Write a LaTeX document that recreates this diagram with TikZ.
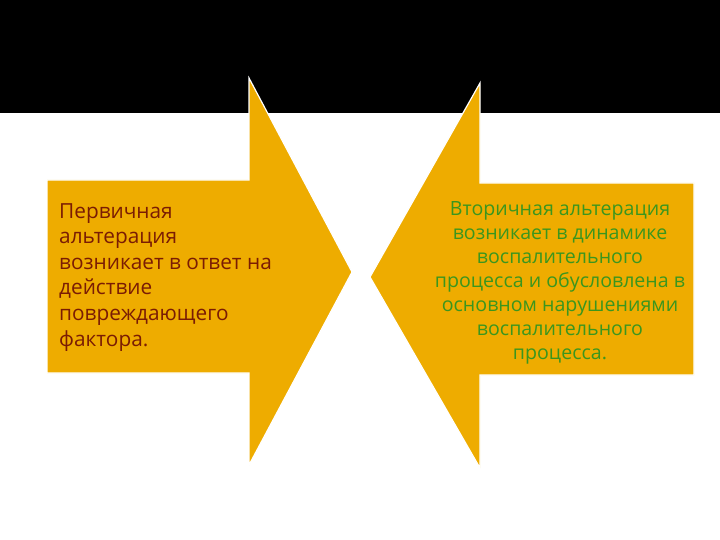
\documentclass[tikz,border=0pt]{standalone}
\usepackage{fontspec}
\setmainfont{Open Sans}
\definecolor{arrowor}{RGB}{238,172,0}
\definecolor{lefttxt}{RGB}{122,28,4}
\definecolor{righttxt}{RGB}{58,150,30}
\tikzset{
  arrowshape/.style={fill=arrowor, draw=white, line width=1.2pt, line join=miter},
  lefttext/.style={text=lefttxt, align=left, inner sep=0pt, font=\fontsize{20.8}{25.6}\selectfont},
  righttext/.style={text=righttxt, align=center, inner sep=0pt, font=\fontsize{19.6}{24}\selectfont}
}
\begin{document}
\begin{tikzpicture}[x=1pt,y=-1pt]
\useasboundingbox (0,0) rectangle (720,540);
\fill[white] (0,0) rectangle (720,540);
\fill[black] (0,0) rectangle (720,113);
% left arrow
\draw[arrowshape] (47,180) -- (249,180) -- (249,78) -- (352,272) -- (249,465) -- (249,373) -- (47,373) -- cycle;
% right arrow
\draw[arrowshape] (694,183) -- (480,183) -- (480,83) -- (370,277) -- (480,468) -- (480,375) -- (694,375) -- cycle;
\node[lefttext, anchor=north west] (lt) at (59,203) {Первичная\\альтерация\\возникает в ответ на\\действие\\повреждающего\\фактора.};
\node[righttext] (rt) at (560,283) {Вторичная альтерация\\возникает в динамике\\воспалительного\\процесса и обусловлена в\\основном нарушениями\\воспалительного\\процесса.};
\end{tikzpicture}
\end{document}
